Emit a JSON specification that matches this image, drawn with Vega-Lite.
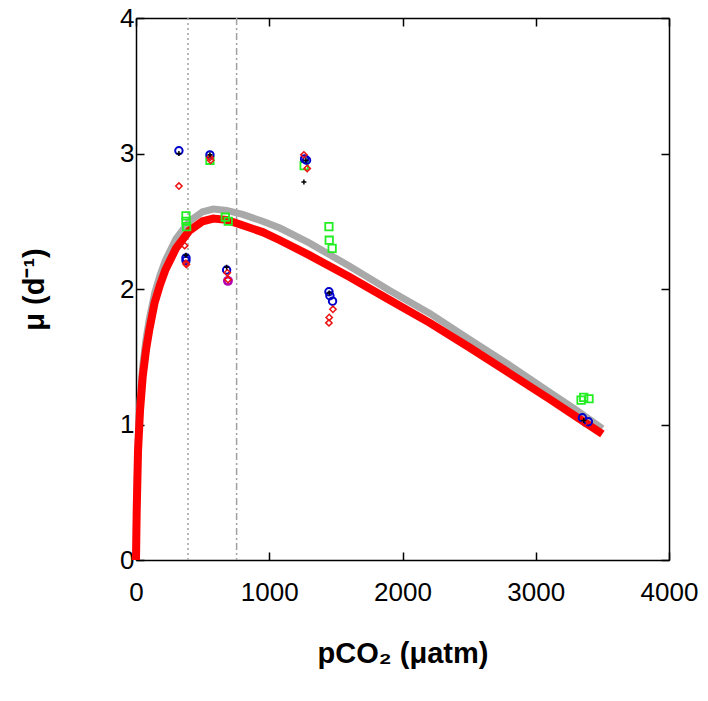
{
  "$schema": "https://vega.github.io/schema/vega-lite/v6.json",
  "autosize": "none",
  "width": 533,
  "height": 542,
  "padding": {"left": 136, "top": 18, "right": 39, "bottom": 141},
  "background": "white",
  "config": {
    "view": {"stroke": null},
    "axis": {
      "grid": false,
      "domainColor": "black",
      "domainWidth": 1.5,
      "tickColor": "black",
      "tickWidth": 1.5,
      "tickSize": -8,
      "labelFlush": false,
      "labelFont": "Liberation Sans",
      "labelFontSize": 26,
      "labelColor": "black",
      "titleFont": "Liberation Sans",
      "titleFontSize": 29,
      "titleFontWeight": "bold",
      "titleColor": "black"
    }
  },
  "datasets": {
    "curves": [
      {"x": 0, "y": 0, "model": "gray"}, {"x": 5, "y": 0.4, "model": "gray"}, {"x": 15, "y": 0.85, "model": "gray"}, {"x": 30, "y": 1.17, "model": "gray"}, {"x": 50, "y": 1.43, "model": "gray"}, {"x": 75, "y": 1.63, "model": "gray"}, {"x": 100, "y": 1.78, "model": "gray"}, {"x": 140, "y": 1.97, "model": "gray"}, {"x": 180, "y": 2.1, "model": "gray"}, {"x": 220, "y": 2.21, "model": "gray"}, {"x": 300, "y": 2.37, "model": "gray"}, {"x": 400, "y": 2.5, "model": "gray"}, {"x": 500, "y": 2.57, "model": "gray"}, {"x": 580, "y": 2.59, "model": "gray"}, {"x": 680, "y": 2.58, "model": "gray"}, {"x": 800, "y": 2.55, "model": "gray"}, {"x": 950, "y": 2.5, "model": "gray"}, {"x": 1080, "y": 2.45, "model": "gray"}, {"x": 1300, "y": 2.34, "model": "gray"}, {"x": 1600, "y": 2.17, "model": "gray"}, {"x": 1900, "y": 1.99, "model": "gray"}, {"x": 2205, "y": 1.82, "model": "gray"}, {"x": 2500, "y": 1.63, "model": "gray"}, {"x": 2800, "y": 1.44, "model": "gray"}, {"x": 3100, "y": 1.24, "model": "gray"}, {"x": 3300, "y": 1.11, "model": "gray"}, {"x": 3500, "y": 0.97, "model": "gray"},
      {"x": 0, "y": 0, "model": "red"}, {"x": 5, "y": 0.35, "model": "red"}, {"x": 15, "y": 0.8, "model": "red"}, {"x": 30, "y": 1.1, "model": "red"}, {"x": 50, "y": 1.35, "model": "red"}, {"x": 75, "y": 1.55, "model": "red"}, {"x": 100, "y": 1.7, "model": "red"}, {"x": 140, "y": 1.9, "model": "red"}, {"x": 180, "y": 2.03, "model": "red"}, {"x": 220, "y": 2.14, "model": "red"}, {"x": 300, "y": 2.3, "model": "red"}, {"x": 400, "y": 2.43, "model": "red"}, {"x": 500, "y": 2.5, "model": "red"}, {"x": 580, "y": 2.52, "model": "red"}, {"x": 680, "y": 2.51, "model": "red"}, {"x": 800, "y": 2.47, "model": "red"}, {"x": 950, "y": 2.42, "model": "red"}, {"x": 1080, "y": 2.36, "model": "red"}, {"x": 1300, "y": 2.25, "model": "red"}, {"x": 1600, "y": 2.09, "model": "red"}, {"x": 1900, "y": 1.92, "model": "red"}, {"x": 2205, "y": 1.75, "model": "red"}, {"x": 2500, "y": 1.57, "model": "red"}, {"x": 2800, "y": 1.38, "model": "red"}, {"x": 3100, "y": 1.19, "model": "red"}, {"x": 3300, "y": 1.06, "model": "red"}, {"x": 3500, "y": 0.93, "model": "red"}
    ],
    "refs": [{"x": 390, "kind": "dotted"}, {"x": 755, "kind": "dashdot"}],
    "blue": [
      {"x": 322, "y": 3.02}, {"x": 555, "y": 2.99}, {"x": 375, "y": 2.23}, {"x": 375, "y": 2.21}, {"x": 680, "y": 2.14}, {"x": 1265, "y": 2.96}, {"x": 1280, "y": 2.95}, {"x": 1448, "y": 1.98}, {"x": 1455, "y": 1.95}, {"x": 1475, "y": 1.91}, {"x": 3350, "y": 1.05}, {"x": 3395, "y": 1.02}
    ],
    "green": [
      {"x": 375, "y": 2.54}, {"x": 375, "y": 2.5}, {"x": 380, "y": 2.46}, {"x": 555, "y": 2.95}, {"x": 670, "y": 2.53}, {"x": 692, "y": 2.5}, {"x": 1262, "y": 2.91}, {"x": 1448, "y": 2.46}, {"x": 1450, "y": 2.36}, {"x": 1472, "y": 2.3}, {"x": 3340, "y": 1.18}, {"x": 3360, "y": 1.2}, {"x": 3400, "y": 1.19}
    ],
    "reddiam": [
      {"x": 322, "y": 2.76}, {"x": 555, "y": 2.97}, {"x": 560, "y": 2.95}, {"x": 365, "y": 2.32}, {"x": 375, "y": 2.19}, {"x": 378, "y": 2.18}, {"x": 685, "y": 2.12}, {"x": 690, "y": 2.07}, {"x": 1260, "y": 2.99}, {"x": 1285, "y": 2.89}, {"x": 1478, "y": 1.85}, {"x": 1450, "y": 1.79}, {"x": 1448, "y": 1.75}, {"x": 3365, "y": 1.01}
    ],
    "black": [
      {"x": 322, "y": 3.0}, {"x": 555, "y": 2.99}, {"x": 375, "y": 2.25}, {"x": 680, "y": 2.16}, {"x": 1275, "y": 2.95}, {"x": 1260, "y": 2.79}, {"x": 1450, "y": 1.97}, {"x": 3360, "y": 1.03}
    ],
    "magenta": [{"x": 690, "y": 2.06}]
  },
  "layer": [
    {
      "layer": [
        {
          "data": {"name": "refs"},
          "mark": {"type": "rule", "color": "#a0a0a0", "strokeWidth": 1.5},
          "encoding": {
            "x": {"field": "x", "type": "quantitative", "scale": {"domain": [0, 4000], "nice": false}, "axis": {"values": [0, 1000, 2000, 3000, 4000], "format": "d", "title": "pCO₂ (μatm)", "labelPadding": 27, "titlePadding": 34}},
            "strokeDash": {"field": "kind", "type": "nominal", "scale": {"domain": ["dotted", "dashdot"], "range": [[2, 3], [7, 3, 2, 3]]}, "legend": null}
          }
        },
        {
          "data": {"name": "curves"},
          "mark": {"type": "line", "strokeCap": "butt"},
          "encoding": {
            "x": {"field": "x", "type": "quantitative"},
            "y": {"field": "y", "type": "quantitative", "scale": {"domain": [0, 4], "nice": false}, "axis": {"values": [0, 1, 2, 3, 4], "format": "d", "title": "μ (d⁻¹)", "labelPadding": 10, "titlePadding": 70}},
            "detail": {"field": "model"},
            "color": {"field": "model", "type": "nominal", "scale": {"domain": ["gray", "red"], "range": ["#a9a9a9", "#ff0000"]}, "legend": null},
            "strokeWidth": {"field": "model", "type": "nominal", "scale": {"domain": ["gray", "red"], "range": [7, 8]}, "legend": null}
          }
        },
        {
          "data": {"name": "green"},
          "mark": {"type": "point", "shape": "square", "filled": false, "color": "#22ee22", "strokeWidth": 1.8, "size": 55, "opacity": 1},
          "encoding": {"x": {"field": "x", "type": "quantitative"}, "y": {"field": "y", "type": "quantitative"}}
        },
        {
          "data": {"name": "blue"},
          "mark": {"type": "point", "shape": "circle", "filled": false, "color": "#0000cc", "strokeWidth": 2, "size": 55, "opacity": 1},
          "encoding": {"x": {"field": "x", "type": "quantitative"}, "y": {"field": "y", "type": "quantitative"}}
        },
        {
          "data": {"name": "magenta"},
          "mark": {"type": "point", "shape": "circle", "filled": false, "color": "#b000b0", "strokeWidth": 2.5, "size": 55, "opacity": 1},
          "encoding": {"x": {"field": "x", "type": "quantitative"}, "y": {"field": "y", "type": "quantitative"}}
        },
        {
          "data": {"name": "reddiam"},
          "mark": {"type": "point", "shape": "diamond", "filled": false, "color": "#ee1111", "strokeWidth": 1.5, "size": 40, "opacity": 1},
          "encoding": {"x": {"field": "x", "type": "quantitative"}, "y": {"field": "y", "type": "quantitative"}}
        },
        {
          "data": {"name": "black"},
          "mark": {"type": "point", "shape": "M-1,0H1M0,-1V1", "filled": false, "color": "black", "strokeWidth": 1.5, "size": 25, "opacity": 1},
          "encoding": {"x": {"field": "x", "type": "quantitative"}, "y": {"field": "y", "type": "quantitative"}}
        }
      ]
    },
    {
      "data": {"name": "black"},
      "mark": {"type": "point", "opacity": 0},
      "encoding": {
        "x": {"field": "x", "type": "quantitative", "axis": {"orient": "top", "values": [0, 1000, 2000, 3000, 4000], "labels": false, "title": null}},
        "y": {"field": "y", "type": "quantitative", "axis": {"orient": "right", "values": [0, 1, 2, 3, 4], "labels": false, "title": null}}
      }
    }
  ],
  "resolve": {"axis": {"x": "independent", "y": "independent"}}
}
